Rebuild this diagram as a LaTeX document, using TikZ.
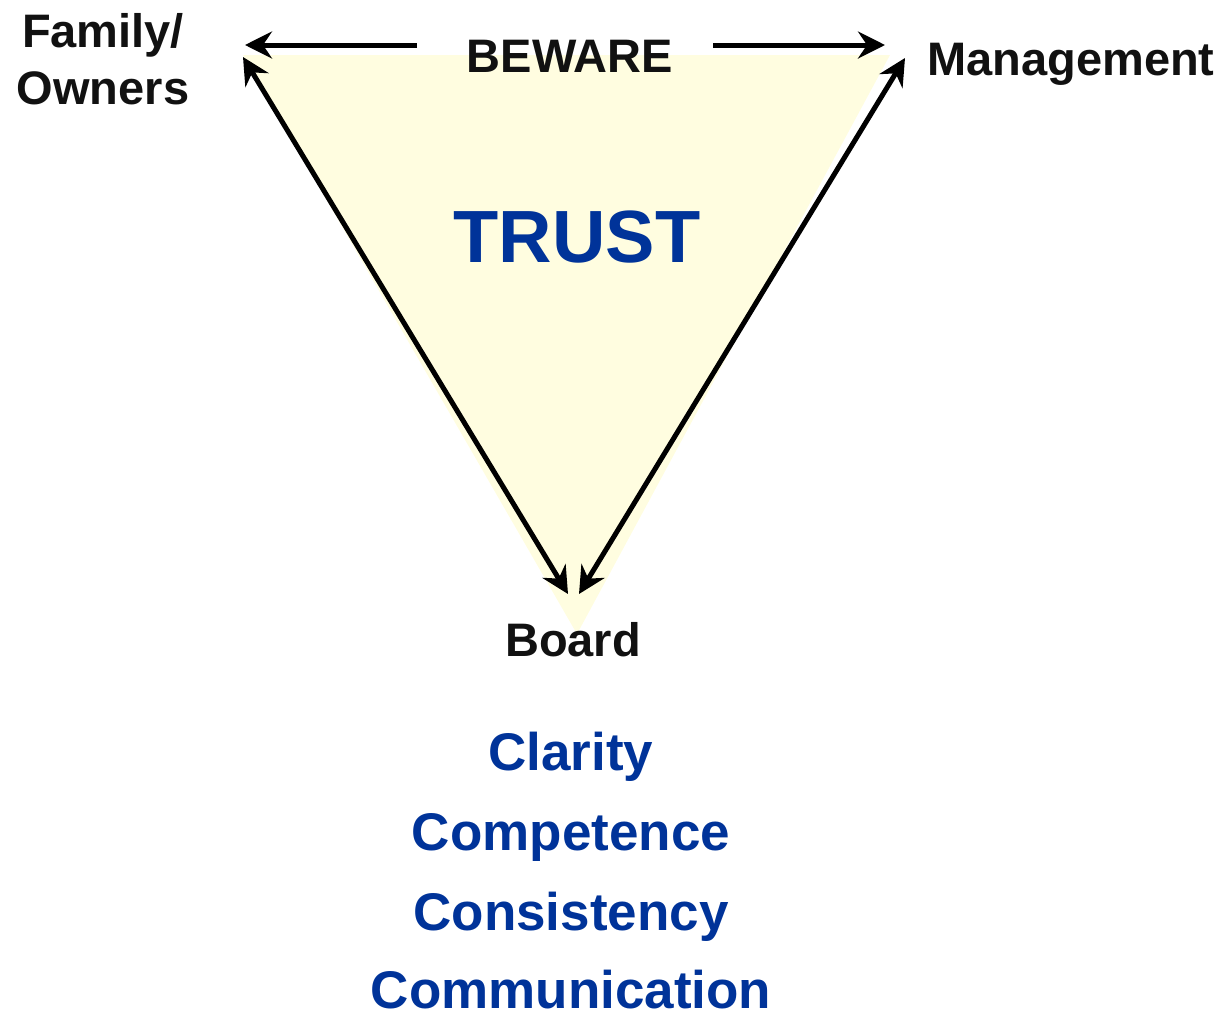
\documentclass[tikz,border=0pt]{standalone}
\usepackage{fontspec}
\setmainfont{Liberation Sans}
\usetikzlibrary{arrows.meta}

\definecolor{paleyellow}{RGB}{255,253,224}
\definecolor{trustblue}{RGB}{0,51,153}
\definecolor{inkblack}{RGB}{17,17,17}

\tikzset{
  party/.style={font=\fontsize{47}{57}\selectfont\bfseries, text=inkblack, inner sep=0pt},
  value/.style={font=\fontsize{53}{60}\selectfont\bfseries, text=trustblue, inner sep=0pt, anchor=base},
  tip/.style={Stealth[length=27pt, width=27pt, inset=9pt]},
  link/.style={line width=5pt, draw=black, arrows={-Stealth[length=27pt, width=27pt, inset=9pt]}},
  twoway/.style={line width=5pt, draw=black,
    arrows={Stealth[length=27pt, width=27pt, inset=9pt]-Stealth[length=27pt, width=27pt, inset=9pt]}}
}

\begin{document}
\begin{tikzpicture}[x=1pt, y=-1pt]
  \useasboundingbox (0,0) rectangle (1224,1013);

  % inverted triangle
  \fill[paleyellow] (243,55) -- (890,55) -- (577,634) -- cycle;

  % labels of the three parties
  \node[party, anchor=base, align=center] (owners) at (103,104) {Family/\\Owners};
  \node[party, anchor=base] (mgmt) at (1071,75) {Management};
  \node[party, anchor=base] (board) at (573,656) {Board};
  \node[party, anchor=base] (beware) at (570,72) {BEWARE};

  % central word
  \node[font=\fontsize{74}{80}\selectfont\bfseries, text=trustblue, inner sep=0pt, anchor=base]
    (trust) at (577,262) {TRUST};

  % the four Cs
  \node[value] (clarity) at (571,770) {Clarity};
  \node[value] (competence) at (571,850) {Competence};
  \node[value] (consistency) at (571,930) {Consistency};
  \node[value] (communication) at (571,1008) {Communication};

  % arrow end points
  \coordinate (bwL) at (417,45);
  \coordinate (bwR) at (713,45);
  \coordinate (foTop) at (245,45);
  \coordinate (mgTop) at (885,45);
  \coordinate (foSide) at (243,57);
  \coordinate (mgSide) at (905,58);
  \coordinate (bdL) at (568,594);
  \coordinate (bdR) at (579,594);

  % connectors
  \draw[link] (bwL) -- (foTop);
  \draw[link] (bwR) -- (mgTop);
  \draw[twoway] (foSide) -- (bdL);
  \draw[twoway] (mgSide) -- (bdR);
\end{tikzpicture}
\end{document}
